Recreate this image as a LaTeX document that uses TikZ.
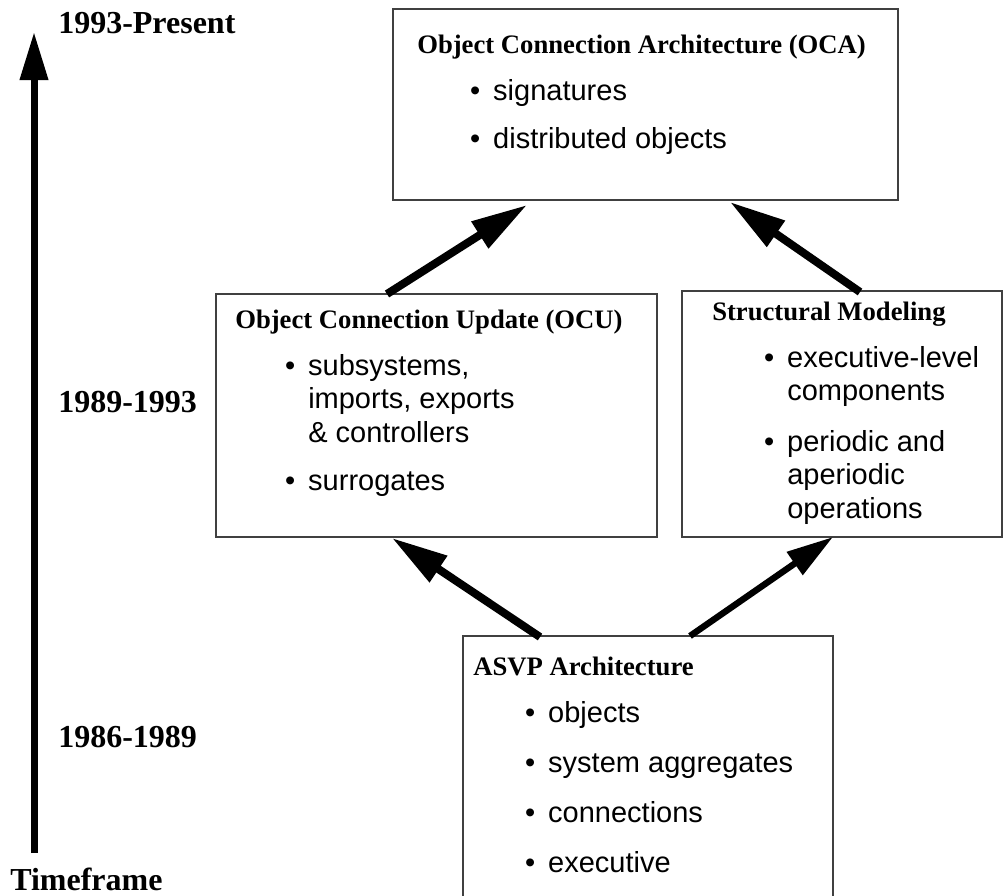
\documentclass[tikz,border=0pt]{standalone}
\usepackage{fontspec}
\setmainfont{Liberation Serif}
\newfontfamily\sansf{Liberation Sans}
\usetikzlibrary{arrows.meta,calc}
% bullet hung to the left of the item text
\newcommand{\itmark}{\llap{\textbullet\hskip 0.45em}}
\begin{document}
\begin{tikzpicture}[x=0.75pt,y=-0.75pt,
  box/.style={draw=black!75, line width=1.1pt, fill=none, rectangle,
    anchor=north west, inner sep=0pt, outer sep=0pt},
  yearlbl/.style={anchor=base west, inner sep=0pt,
    font=\fontsize{24}{28}\selectfont\bfseries},
  boxtitle/.style={anchor=base west, inner sep=0pt,
    font=\fontsize{20}{24}\selectfont\bfseries},
  itemtxt/.style={anchor=base west, inner sep=0pt,
    font=\sansf\fontsize{21.75}{25}\selectfont},
  timeline/.style={line width=5.25pt,
    -{Triangle[length=36pt,width=20.25pt]}},
  conn/.style={line width=6pt,
    -{Triangle[length=42pt,width=22.5pt]}},
  connthin/.style={line width=4.8pt,
    -{Triangle[length=35pt,width=20pt]}}]

\clip (0,0) rectangle (1007,896);
\fill[white] (0,0) rectangle (1007,896);

% ---- boxes ----
\node[box, minimum width=378.75pt, minimum height=143.25pt] (oca) at (393,9) {};
\node[box, minimum width=330.75pt, minimum height=182.25pt] (ocu) at (216,294) {};
\node[box, minimum width=240pt, minimum height=184.5pt] (sm) at (682,291) {};
\node[box, minimum width=277.5pt, minimum height=205.5pt] (asvp) at (463,636) {};

% ---- timeline ----
\coordinate (tlbot) at (34,853);
\coordinate (tltop) at (34,32);
\draw[timeline] (tlbot) -- (tltop);
\node[yearlbl] (ypres) at (58,33) {1993-Present};
\node[yearlbl] (ymid) at (58,412) {1989-1993};
\node[yearlbl] (yold) at (58,747) {1986-1989};
\node[yearlbl] (tf) at (10,890) {Timeframe};

% ---- OCA ----
\node[boxtitle] (ocat) at (417,53) {Object Connection Architecture (OCA)};
\node[itemtxt] (ocai1) at (493,100) {\itmark signatures};
\node[itemtxt] (ocai2) at (493,148) {\itmark distributed objects};

% ---- OCU ----
\node[boxtitle] (ocut) at (235,328) {Object Connection Update (OCU)};
\node[itemtxt] (ocui1a) at (308,375) {\itmark subsystems,};
\node[itemtxt] (ocui1b) at (308,408.5) {imports, exports};
\node[itemtxt] (ocui1c) at (308,442) {\& controllers};
\node[itemtxt] (ocui2) at (308,490) {\itmark surrogates};

% ---- Structural Modeling ----
\node[boxtitle] (smt) at (712,320) {Structural Modeling};
\node[itemtxt] (smi1a) at (787,367) {\itmark executive-level};
\node[itemtxt] (smi1b) at (787,400.5) {components};
\node[itemtxt] (smi2a) at (787,451) {\itmark periodic and};
\node[itemtxt] (smi2b) at (787,484.5) {aperiodic};
\node[itemtxt] (smi2c) at (787,518) {operations};

% ---- ASVP ----
\node[boxtitle] (asvpt) at (473,675) {ASVP Architecture};
\node[itemtxt] (asvpi1) at (548,722) {\itmark objects};
\node[itemtxt] (asvpi2) at (548,772) {\itmark system aggregates};
\node[itemtxt] (asvpi3) at (548,822) {\itmark connections};
\node[itemtxt] (asvpi4) at (548,872) {\itmark executive};

% ---- evolution arrows ----
\draw[conn] ($(ocu.north west)+(171,0)$) -- ($(oca.south west)+(134,5)$);
\draw[conn] ($(sm.north west)+(178,1)$) -- ($(oca.south west)+(337,2)$);
\draw[conn] ($(asvp.north west)+(77,1)$) -- ($(ocu.south west)+(176,1)$);
\draw[connthin] ($(asvp.north west)+(227,0)$) -- ($(sm.south west)+(151,0)$);

\end{tikzpicture}
\end{document}
